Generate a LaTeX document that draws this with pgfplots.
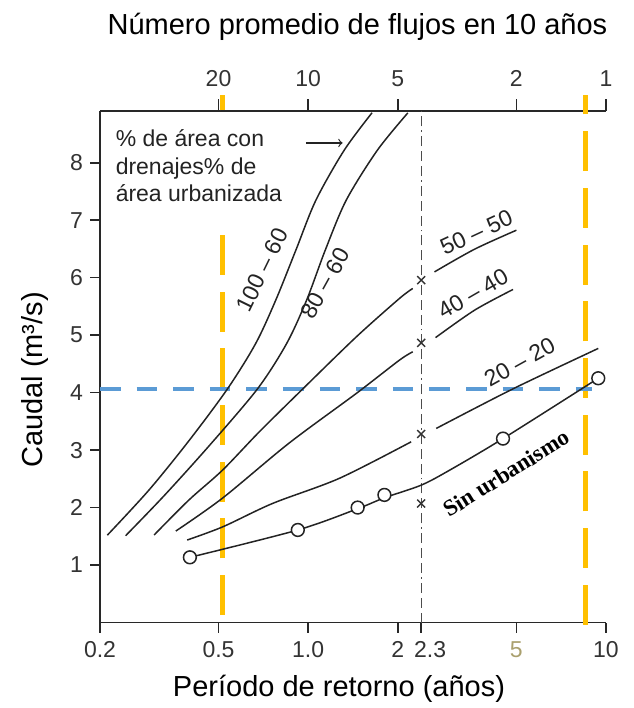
\documentclass[border=0pt]{standalone}
\usepackage{fontspec}
\setmainfont{Liberation Sans}
\newfontfamily\timesfont{Liberation Serif}
\usepackage{pgfplots}
\pgfplotsset{compat=1.18}
\definecolor{gold}{RGB}{255,192,0}
\definecolor{bluel}{RGB}{91,155,213}
\definecolor{crv}{RGB}{35,35,35}
\definecolor{fivec}{RGB}{170,160,110}
\definecolor{axc}{RGB}{40,40,40}

\pgfplotsset{
  mycurve/.style={crv, line width=0.75pt, smooth, tension=0.5},
}

\begin{document}
\begin{tikzpicture}
\useasboundingbox (0,0) rectangle (316.5pt,354pt);

% top axis
\begin{axis}[
  at={(50pt,42.75pt)}, anchor=south west, scale only axis,
  width=253pt, height=255.75pt,
  xmode=log, xmin=0.2, xmax=10, ymin=0, ymax=8.9,
  axis line style={-, line width=0.8pt, color=axc},
  tick align=outside,
  tick style={line width=0.8pt, color=axc},
  xminorticks=false, yminorticks=false,
  ticklabel style={font=\fontsize{11.5}{12}\selectfont, color=black!80, yshift=2.5pt},
  /pgf/number format/assume math mode=true,
  clip=false,
  axis x line*=top, axis y line=none, ytick=\empty,
  xtick={0.5,1,2,5,10}, xticklabels={20,10,5,2,1},
  major tick length=6pt,
]
\end{axis}

% main axis
\begin{axis}[
  at={(50pt,42.75pt)}, anchor=south west, scale only axis,
  width=253pt, height=255.75pt,
  xmode=log, xmin=0.2, xmax=10, ymin=0, ymax=8.9,
  axis line style={-, line width=0.8pt, color=axc},
  tick align=outside,
  tick style={line width=0.8pt, color=axc},
  xminorticks=false, yminorticks=false,
  ticklabel style={font=\fontsize{11.5}{12}\selectfont, color=black!80},
  xticklabel style={yshift=-1pt},
  /pgf/number format/assume math mode=true,
  clip=false,
  axis x line*=bottom, axis y line*=left,
  xtick={0.2,0.5,1,2,5,10},
  xticklabels={0.2,0.5,1.0,2,\textcolor{fivec}{5},10},
  extra x ticks={2.396}, extra x tick labels={2.3},
  extra x tick style={tick label style={xshift=4.5pt}},
  ytick={1,2,3,4,5,6,7,8},
  major tick length=5pt,
]
% vertical dash-dot line at T = 2.3
\addplot[color=black!70, line width=0.65pt, dash pattern=on 5pt off 2.5pt on 5pt off 2.5pt on 5pt off 2pt on 0.8pt off 2pt]
  coordinates {(2.396,0) (2.396,8.9)};

% orange dashed lines
\addplot[gold, line width=2.5pt, dash pattern=on 20pt off 8.35pt]
  coordinates {(0.517,0.13) (0.517,6.74)};
\addplot[gold, line width=2.5pt] coordinates {(0.517,8.91) (0.517,9.17)};
\addplot[gold, line width=2.5pt, dash pattern=on 20pt off 8.35pt]
  coordinates {(8.54,-0.04) (8.54,9.17)};

% blue dashed line
\addplot[bluel, line width=2pt, dash pattern=on 10.3pt off 8pt]
  coordinates {(0.2,4.07) (9.0,4.07)};

% 100-60
\addplot[mycurve] coordinates {(0.2117,1.52) (0.2915,2.30) (0.3975,3.16) (0.5366,4.07) (0.6667,4.856) (0.7784,5.609) (0.9091,6.478) (1.0615,7.348) (1.322,8.22) (1.639,8.87)};
% 80-60
\addplot[mycurve] coordinates {(0.2438,1.51) (0.3275,2.20) (0.4642,3.07) (0.676,4.066) (0.847,4.856) (0.988,5.609) (1.141,6.478) (1.342,7.348) (1.707,8.217) (2.16,8.866)};
% 50-50
\addplot[mycurve] coordinates {(0.3038,1.522) (0.3975,2.130) (0.516,2.652) (0.684,3.313) (0.9598,4.066) (1.451,4.970) (2.025,5.638) (2.245,5.812)};
\addplot[mycurve] coordinates {(2.656,6.101) (3.622,6.496) (5.004,6.826)};
% 40-40
\addplot[mycurve] coordinates {(0.3594,1.591) (0.516,2.165) (0.863,3.122) (1.451,3.986) (2.025,4.565) (2.245,4.71)};
\addplot[mycurve] coordinates {(2.677,4.957) (3.622,5.435) (4.874,5.795)};
% 20-20
\addplot[mycurve] coordinates {(0.3924,1.435) (0.5173,1.666) (0.7606,2.073) (1.272,2.508) (2.217,3.144)};
\addplot[mycurve] coordinates {(2.692,3.377) (4.874,4.066) (9.42,4.769)};
% Sin urbanismo
\addplot[mycurve] coordinates {(0.4007,1.134) (0.923,1.61) (1.466,1.98) (1.803,2.17) (2.396,2.39) (2.984,2.65) (4.51,3.20) (9.42,4.25)};
\addplot[only marks, mark=*, mark size=3.2pt, mark options={fill=white, draw=crv, line width=0.75pt}]
  coordinates {(0.4007,1.134) (0.923,1.61) (1.466,2.00) (1.803,2.22) (4.51,3.20) (9.42,4.25)};
% x marks on the 2.3 line
\addplot[only marks, mark=x, mark size=2.8pt, mark options={draw=black!80, line width=0.7pt}]
  coordinates {(2.396,5.957) (2.396,4.866) (2.396,3.28) (2.396,2.07)};

% curve labels
\node[rotate=64, font=\fontsize{11.5}{12}\selectfont, text=crv] at (axis cs:0.700,6.13) {100 – 60};
\node[rotate=61, font=\fontsize{11.5}{12}\selectfont, text=crv] at (axis cs:1.138,5.90) {80 – 60};
\node[rotate=25, font=\fontsize{11.5}{12}\selectfont, text=crv] at (axis cs:3.67,6.79) {50 – 50};
\node[rotate=30, font=\fontsize{11.5}{12}\selectfont, text=crv] at (axis cs:3.575,5.72) {40 – 40};
\node[rotate=29, font=\fontsize{11.5}{12}\selectfont, text=crv] at (axis cs:5.13,4.53) {20 – 20};
\node[rotate=32, font=\timesfont\bfseries\fontsize{11.5}{12}\selectfont, text=black] at (axis cs:4.63,2.60) {Sin urbanismo};

% annotation
\node[anchor=base west, font=\fontsize{11.5}{12}\selectfont, text=crv, inner sep=0pt] at (axis cs:0.2252,8.275) {\% de área con};
\node[anchor=base west, font=\fontsize{11.5}{12}\selectfont, text=crv, inner sep=0pt] at (axis cs:0.2252,7.80) {drenajes\% de};
\node[anchor=base west, font=\fontsize{11.5}{12}\selectfont, text=crv, inner sep=0pt] at (axis cs:0.2252,7.318) {área urbanizada};
\draw[->, crv, line width=0.6pt] (axis cs:0.982,8.344) -- (axis cs:1.305,8.344);
\end{axis}

\node[font=\fontsize{14.5}{16}\selectfont] at (178.75pt,340.5pt) {Número promedio de flujos en 10 años};
\node[font=\fontsize{14.5}{16}\selectfont] at (169.5pt,9.5pt) {Período de retorno (años)};
\node[rotate=90, font=\fontsize{14.5}{16}\selectfont] at (17.5pt,164pt) {Caudal (m³/s)};
\end{tikzpicture}
\end{document}
